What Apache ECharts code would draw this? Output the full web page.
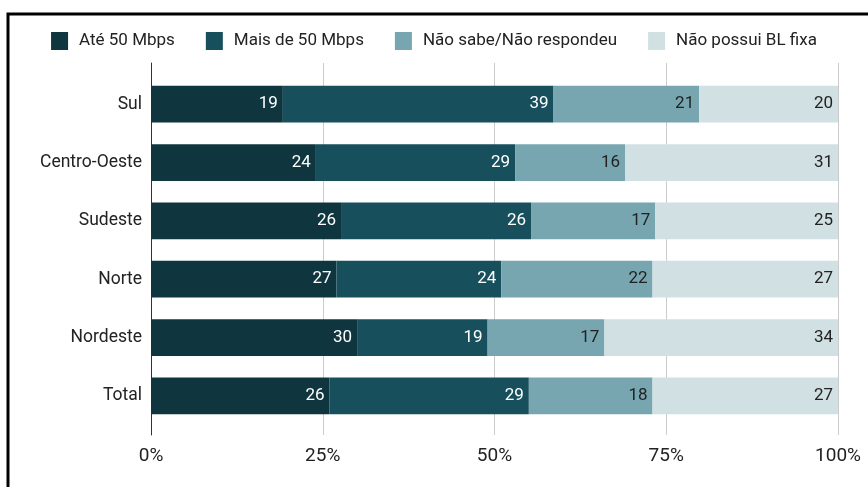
<!DOCTYPE html>
<html><head><meta charset="utf-8">
<script src="https://cdn.jsdelivr.net/npm/echarts@6/dist/echarts.min.js"></script>
<style>html,body{margin:0;padding:0;background:#fff}#c{width:868px;height:487px}</style>
</head><body><div id="c"></div>
<script>
const categories = ['Sul','Centro-Oeste','Sudeste','Norte','Nordeste','Total'];
const seriesNames = ['Até 50 Mbps','Mais de 50 Mbps','Não sabe/Não respondeu','Não possui BL fixa'];
const ate50 = [19,24,26,27,30,26];
const mais50 = [39,29,26,24,19,29];
const naoSabe = [21,16,17,22,17,18];
const naoPossui = [20,31,25,27,34,27];
const xTicks = ['0%','25%','50%','75%','100%'];

const colors = ['#0f363e','#17505c','#77a6b0','#d1e0e3'];
const labelColors = ['#ffffff','#ffffff','#222222','#222222'];
const raw = [ate50, mais50, naoSabe, naoPossui];
const sums = categories.map((_, i) => raw.reduce((s, arr) => s + arr[i], 0));
const font = 'Roboto';

const series = raw.map((arr, k) => ({
  name: seriesNames[k], type: 'bar', stack: 's', xAxisIndex: 1, yAxisIndex: 1,
  barCategoryGap: '37%',
  itemStyle: { color: colors[k] },
  data: arr.map((v, i) => ({ value: v / sums[i] * 100, raw: v })),
  label: { show: true, position: 'insideRight', distance: 5, color: labelColors[k],
    fontFamily: font, fontSize: 17,
    formatter: p => p.data.raw },
  emphasis: { disabled: true }
}));

const chart = echarts.init(document.getElementById('c'), null, { renderer: 'canvas' });
chart.setOption({
  animation: false,
  color: colors,
  legend: {
    top: 27, left: 'center', itemWidth: 17, itemHeight: 18, itemGap: 31, icon: 'rect',
    textStyle: { fontFamily: font, fontSize: 17, color: '#222', padding: [0, 0, 0, 6] },
    data: seriesNames
  },
  grid: [
    { left: 151, right: 30, top: 63, bottom: 52 },
    { left: 151, right: 30, top: 75, bottom: 62 }
  ],
  xAxis: [
    { gridIndex: 0, type: 'value', min: 0, max: 100, interval: 25,
      axisLine: { show: false }, axisTick: { show: false },
      splitLine: { show: true, lineStyle: { color: '#cccccc', width: 1 } },
      axisLabel: { margin: 12, fontFamily: font, fontSize: 19, color: '#222',
        formatter: v => xTicks[Math.round(v / 25)] } },
    { gridIndex: 1, type: 'value', min: 0, max: 100, show: false }
  ],
  yAxis: [
    { gridIndex: 0, type: 'value', min: 0, max: 1, axisLabel: { show: false },
      axisTick: { show: false }, splitLine: { show: false },
      axisLine: { show: true, onZero: false, lineStyle: { color: '#333', width: 1 } } },
    { gridIndex: 1, type: 'category', inverse: true, data: categories,
      axisLine: { show: false }, axisTick: { show: false },
      axisLabel: { margin: 9, fontFamily: font, fontSize: 17.5, color: '#222' } }
  ],
  graphic: [
    { type: 'polyline', shape: { points: [[8, 487], [8, 14], [868, 14]] },
      style: { stroke: '#000', lineWidth: 3, fill: null } }
  ],
  series: series
});
</script></body></html>
